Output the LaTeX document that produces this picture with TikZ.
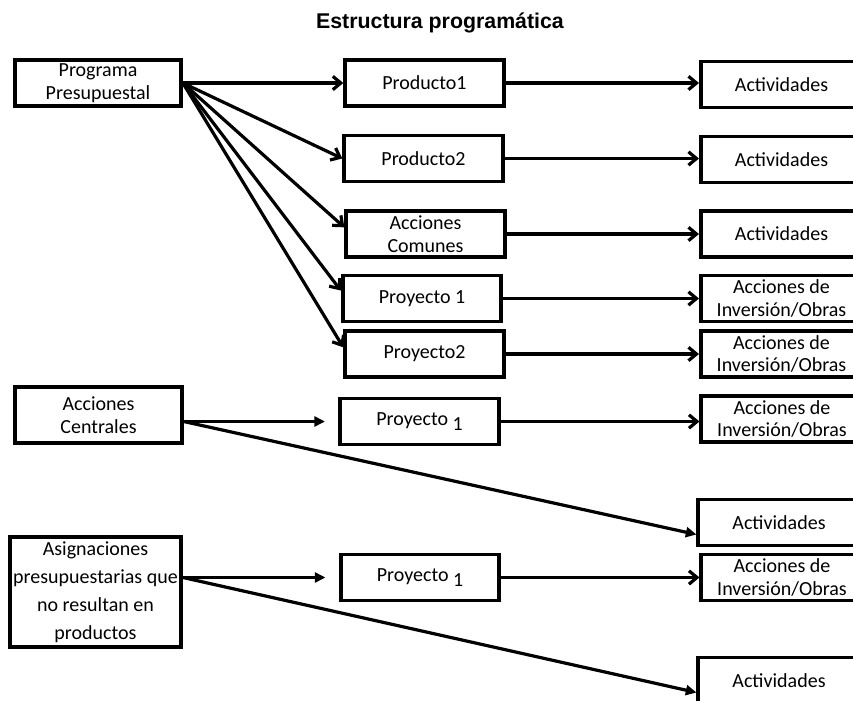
\documentclass[tikz,border=0pt]{standalone}
\usepackage{fontspec}
\setmainfont{Carlito}
\newfontfamily\titlefont{Liberation Sans}
\usetikzlibrary{arrows.meta}

\tikzset{
  box/.style={draw, line width=2.8pt, inner sep=0pt, align=center,
    font=\fontsize{15}{17}\selectfont},
  mbox/.style={box, minimum width=119pt, minimum height=34.5pt},
  rbox/.style={box, minimum width=121pt, minimum height=34.5pt},
  link/.style={line width=2.4pt, -{Straight Barb[length=6pt,width=10pt]}},
  flink/.style={line width=2.4pt, -{Triangle[length=8pt,width=7.5pt]}},
}

\begin{document}
\begin{tikzpicture}[x=0.75pt, y=-0.75pt]
\useasboundingbox (0,0) rectangle (853,700);
\clip (0,0) rectangle (853,700);

% Title
\node[font=\titlefont\bfseries\fontsize{16}{19}\selectfont, anchor=base] (title) at (440,28) {Estructura programática};

% Left column
\node[box, minimum width=124.5pt, minimum height=34.5pt] (prog) at (98,83) {Programa\\Presupuestal};
\node[box, minimum width=125pt, minimum height=42pt] (acen) at (98.5,415) {Acciones\\Centrales};
\node[box, line width=3.2pt, minimum width=128pt, minimum height=82pt,
  font=\fontsize{15}{21}\selectfont] (asig) at (95.5,592)
  {Asignaciones\\presupuestarias que\\no resultan en\\productos};

% Middle column
\node[mbox] (p1) at (424.5,83) {Producto1};
\node[mbox] (p2) at (423.5,158.5) {Producto2};
\node[mbox] (ac) at (425.5,234) {Acciones\\Comunes};
\node[mbox] (py1) at (422,298.5) {Proyecto 1};
\node[mbox] (py2) at (424.5,354) {Proyecto2};
\node[mbox] (cp) at (419.5,421.5) {Proyecto \raisebox{-4pt}{1}};
\node[mbox] (ap) at (420,577.5) {Proyecto \raisebox{-4pt}{1}};

% Right column (cut by the page edge)
\node[rbox] (a1) at (781.5,84.5) {Actividades};
\node[rbox] (a2) at (781.5,159.5) {Actividades};
\node[rbox] (a3) at (781.5,234) {Actividades};
\node[rbox] (i1) at (781.5,298.5) {Acciones de\\Inversión/Obras};
\node[rbox] (i2) at (781.5,354) {Acciones de\\Inversión/Obras};
\node[rbox] (i3) at (782,419) {Acciones de\\Inversión/Obras};
\node[rbox] (a4) at (779,522.5) {Actividades};
\node[rbox] (i4) at (782,577.5) {Acciones de\\Inversión/Obras};
\node[rbox] (a5) at (779,680.5) {Actividades};

% Programa presupuestal fan
\draw[link] (prog.east) -- (p1.west);
\draw[link] (prog.east) -- (p2.west);
\draw[link] (prog.east) -- ([yshift=5pt]ac.west);
\draw[link] (prog.east) -- ([yshift=6pt]py1.west);
\draw[link] (prog.east) -- ([yshift=5pt]py2.west);

% Middle to right
\draw[link] (p1.east) -- (p1.east -| a1.west);
\draw[link] (p2.east) -- (p2.east -| a2.west);
\draw[link] (ac.east) -- (ac.east -| a3.west);
\draw[link] (py1.east) -- (py1.east -| i1.west);
\draw[link] (py2.east) -- (py2.east -| i2.west);
\draw[link] (cp.east) -- (cp.east -| i3.west);
\draw[link] (ap.east) -- (ap.east -| i4.west);

% Acciones centrales and asignaciones
\draw[flink, shorten >=10pt] (cp.west -| acen.east) -- (cp.west);
\draw[flink] (cp.west -| acen.east) -- ([yshift=-9pt]a4.west);
\draw[flink, shorten >=10pt] (ap.west -| asig.east) -- (ap.west);
\draw[flink] (ap.west -| asig.east) -- ([yshift=-9pt]a5.west);
\end{tikzpicture}
\end{document}
